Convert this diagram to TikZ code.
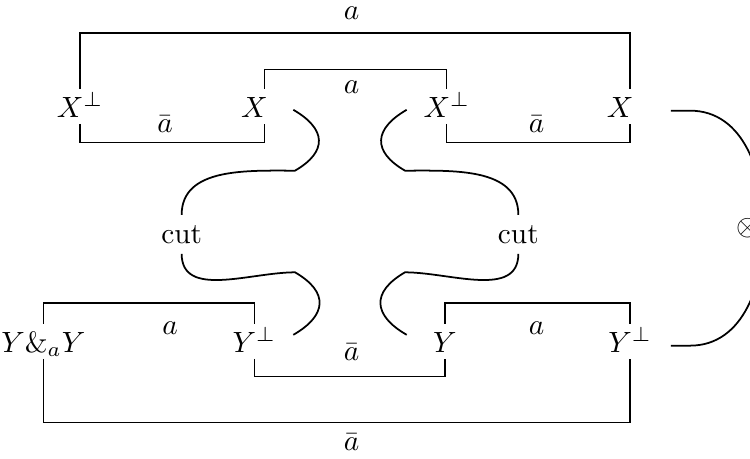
\documentclass[tikz,border=0pt]{standalone}
\usepackage{amsmath,amssymb}
\usetikzlibrary{calc}

\begin{document}
\begin{tikzpicture}[
    % --- Node styles ---
    formula/.style={anchor=base, inner sep=2pt, text height=7.5pt, text depth=0pt},
    lbl/.style={anchor=base, inner sep=0pt},
    cutnode/.style={anchor=base},
    % --- Wire styles ---
    link/.style={draw, line width=0.4pt},
    wire/.style={draw, line width=0.6pt},
    bulge/.style={looseness=1.6},
]
\useasboundingbox (0,0) rectangle (9,5.508);

% === Formulas ===
\node[formula] (xa) at (0.96,4.10) {$X^\perp$};
\node[formula] (xb) at (3.17,4.10) {$X\phantom{^\perp}$};
\node[formula] (xc) at (5.36,4.10) {$X^\perp$};
\node[formula] (xd) at (7.56,4.10) {$X\phantom{^\perp}$};
\node[formula] (ya) at (0.52,1.28) {$Y\&_aY$};
\node[formula] (yb) at (3.05,1.28) {$Y^\perp$};
\node[formula] (yc) at (5.34,1.28) {$Y$};
\node[formula] (yd) at (7.56,1.28) {$Y^\perp$};

% === Cuts and tensor ===
\node[cutnode] (cuta) at (2.18,2.59) {cut};
\node[cutnode] (cutb) at (6.22,2.59) {cut};
\node[inner sep=0pt] (tensor) at (8.98,2.77) {$\otimes$};

% === Axiom links ===
\draw[link] (xa.north) -- ++(0,0.67) -| (xd.north);
\draw[link] (xb.north) -- ++(0,0.23) -| (xc.north);
\draw[link] (xa.south) -- ++(0,-0.22) -| (xb.south);
\draw[link] (xc.south) -- ++(0,-0.22) -| (xd.south);
\draw[link] (ya.north) -- ++(0,0.25) -| (yb.north);
\draw[link] (yc.north) -- ++(0,0.25) -| (yd.north);
\draw[link] (yb.south) -- ++(0,-0.21) -| (yc.south);
\draw[link] (ya.south) -- ++(0,-0.76) -| (yd.south);

% link labels
\node[lbl] at (4.22,5.27) {$a$};
\node[lbl] at (4.22,4.38) {$a$};
\node[lbl] at (1.98,3.92) {$\bar a$};
\node[lbl] at (6.44,3.92) {$\bar a$};
\node[lbl] at (2.04,1.49) {$a$};
\node[lbl] at (6.44,1.49) {$a$};
\node[lbl] at (4.22,1.18) {$\bar a$};
\node[lbl] at (4.22,0.10) {$\bar a$};

% === Wire ends and kinks ===
\coordinate (xbe) at (3.52,4.19);
\coordinate (xcw) at (4.88,4.19);
\coordinate (ybe) at (3.52,1.49);
\coordinate (ycw) at (4.88,1.49);
\coordinate (xde) at (8.05,4.18);
\coordinate (yde) at (8.05,1.36);
\coordinate (ka) at (3.54,3.46);
\coordinate (kb) at (4.86,3.46);
\coordinate (kc) at (3.54,2.24);
\coordinate (kd) at (4.86,2.24);
\coordinate (tj) at (9.17,2.77);

% === Cut wires ===
\draw[wire] (xbe) to[out=-30,in=30,bulge] (ka) to[out=180,in=90] (cuta.north);
\draw[wire] (cuta.south) to[out=-90,in=180] (kc) to[out=-30,in=30,bulge] (ybe);
\draw[wire] (xcw) to[out=-150,in=150,bulge] (kb) to[out=0,in=90] (cutb.north);
\draw[wire] (cutb.south) to[out=-90,in=0] (kd) to[out=-150,in=150,bulge] (ycw);

% === Tensor wire ===
\draw[wire] (xde) -- ++(0.23,0) to[out=0,in=90] (tj);
\draw[wire] (yde) -- ++(0.23,0) to[out=0,in=-90] (tj);

\end{tikzpicture}
\end{document}
